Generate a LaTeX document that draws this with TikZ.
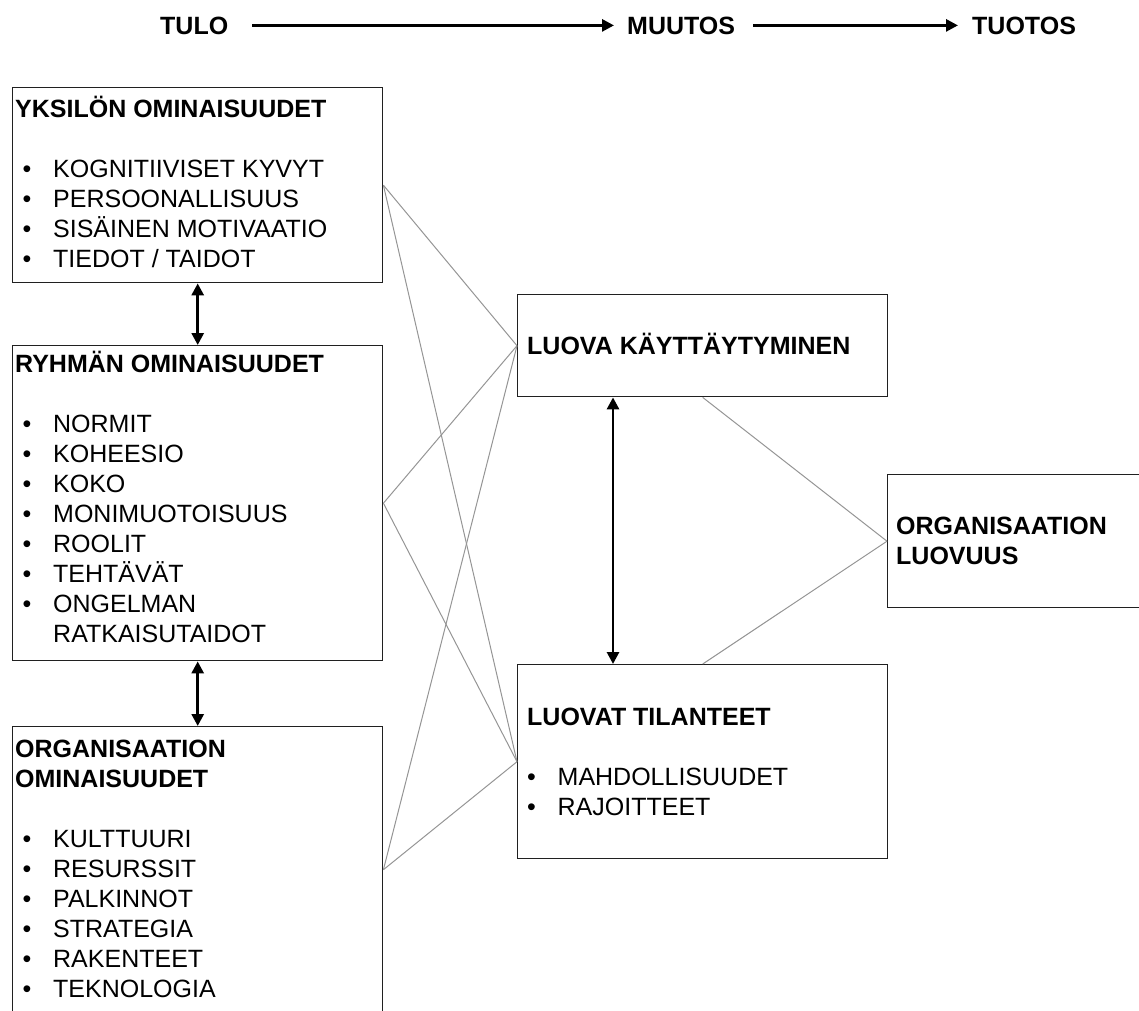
\documentclass[tikz,border=0pt]{standalone}
\usepackage{fontspec}
\setmainfont{Liberation Sans}
\usetikzlibrary{arrows.meta}
\definecolor{linkgray}{HTML}{959595}
\definecolor{edge}{HTML}{202020}
% one bulleted line: optional indent of the bullet, then the text
\newcommand\listline[2][7.5pt]{\hspace*{#1}\makebox[30.5pt][l]{\textbullet}#2}
\begin{document}
\begin{tikzpicture}[x=1pt,y=-1pt,
  box/.style={draw=edge, line width=1.4pt, inner sep=0pt, anchor=north west},
  link/.style={draw=linkgray, line width=1pt},
  tip/.style={line width=2.8pt},
  dbl/.style={tip, {Triangle[length=12pt,width=12pt]}-{Triangle[length=12pt,width=12pt]}},
  flow/.style={tip, -{Triangle[length=12pt,width=12pt]}},
  txt/.style={anchor=north west, inner sep=0pt, font=\fontsize{25}{30}\selectfont},
  hd/.style={anchor=base west, inner sep=0pt, font=\bfseries\fontsize{25}{30}\selectfont},
]
\useasboundingbox (0,0) rectangle (1139,1010);

% header
\node[hd] (tulo) at (160,34) {TULO};
\node[hd] (muutos) at (627,34) {MUUTOS};
\node[hd] (tuotos) at (972,34) {TUOTOS};
\draw[flow] ([xshift=24pt]tulo.east) -- ([xshift=-13pt]muutos.west);
\draw[flow] ([xshift=18pt]muutos.east) -- ([xshift=-14pt]tuotos.west);

% boxes
\node[box, minimum width=370pt, minimum height=195pt] (yks) at (12,87) {};
\node[box, minimum width=370pt, minimum height=315pt] (ryh) at (12,345) {};
\node[box, minimum width=370pt, minimum height=286pt] (org) at (12,726) {};
\node[box, minimum width=370pt, minimum height=102pt] (lk) at (517,294) {};
\node[box, minimum width=370pt, minimum height=194pt] (lt) at (517,664) {};
\node[box, minimum width=270pt, minimum height=133pt] (ol) at (887,474) {};

% thin connectors
\draw[link] (yks.east) -- (lk.west);
\draw[link] (yks.east) -- (lt.west);
\draw[link] (ryh.east) -- (lk.west);
\draw[link] (ryh.east) -- (lt.west);
\draw[link] (org.east) -- (lk.west);
\draw[link] (org.east) -- (lt.west);
\draw[link] (lk.south) -- (ol.west);
\draw[link] (lt.north) -- (ol.west);

% two-way arrows
\draw[dbl] (yks.south) -- (ryh.north);
\draw[dbl] (ryh.south) -- (org.north);
\draw[dbl] ([xshift=96pt]lk.south west) -- ([xshift=96pt]lt.north west);

% box texts
\node[txt] (yksT) at (15,96) {\parbox[t]{360pt}{\strut\textbf{YKSILÖN OMINAISUUDET}\\
\strut\\
\listline{KOGNITIIVISET KYVYT}\strut\\
\listline{PERSOONALLISUUS}\strut\\
\listline{SISÄINEN MOTIVAATIO}\strut\\
\listline{TIEDOT / TAIDOT}\strut}};

\node[txt] (ryhT) at (15,351) {\parbox[t]{360pt}{\strut\textbf{RYHMÄN OMINAISUUDET}\\
\strut\\
\listline{NORMIT}\strut\\
\listline{KOHEESIO}\strut\\
\listline{KOKO}\strut\\
\listline{MONIMUOTOISUUS}\strut\\
\listline{ROOLIT}\strut\\
\listline{TEHTÄVÄT}\strut\\
\listline{ONGELMAN}\strut\\
\hspace*{38pt}RATKAISUTAIDOT\strut}};

\node[txt] (orgT) at (15,736) {\parbox[t]{360pt}{\strut\textbf{ORGANISAATION}\\
\strut\textbf{OMINAISUUDET}\\
\strut\\
\listline{KULTTUURI}\strut\\
\listline{RESURSSIT}\strut\\
\listline{PALKINNOT}\strut\\
\listline{STRATEGIA}\strut\\
\listline{RAKENTEET}\strut\\
\listline{TEKNOLOGIA}\strut}};

\node[hd] (lkT) at (527,354) {LUOVA KÄYTTÄYTYMINEN};

\node[txt] (ltT) at (527,704) {\parbox[t]{360pt}{\strut\textbf{LUOVAT TILANTEET}\\
\strut\\
\listline[0pt]{MAHDOLLISUUDET}\strut\\
\listline[0pt]{RAJOITTEET}\strut}};

\node[txt] (olT) at (896,513) {\parbox[t]{240pt}{\strut\textbf{ORGANISAATION}\\
\strut\textbf{LUOVUUS}}};
\end{tikzpicture}
\end{document}
